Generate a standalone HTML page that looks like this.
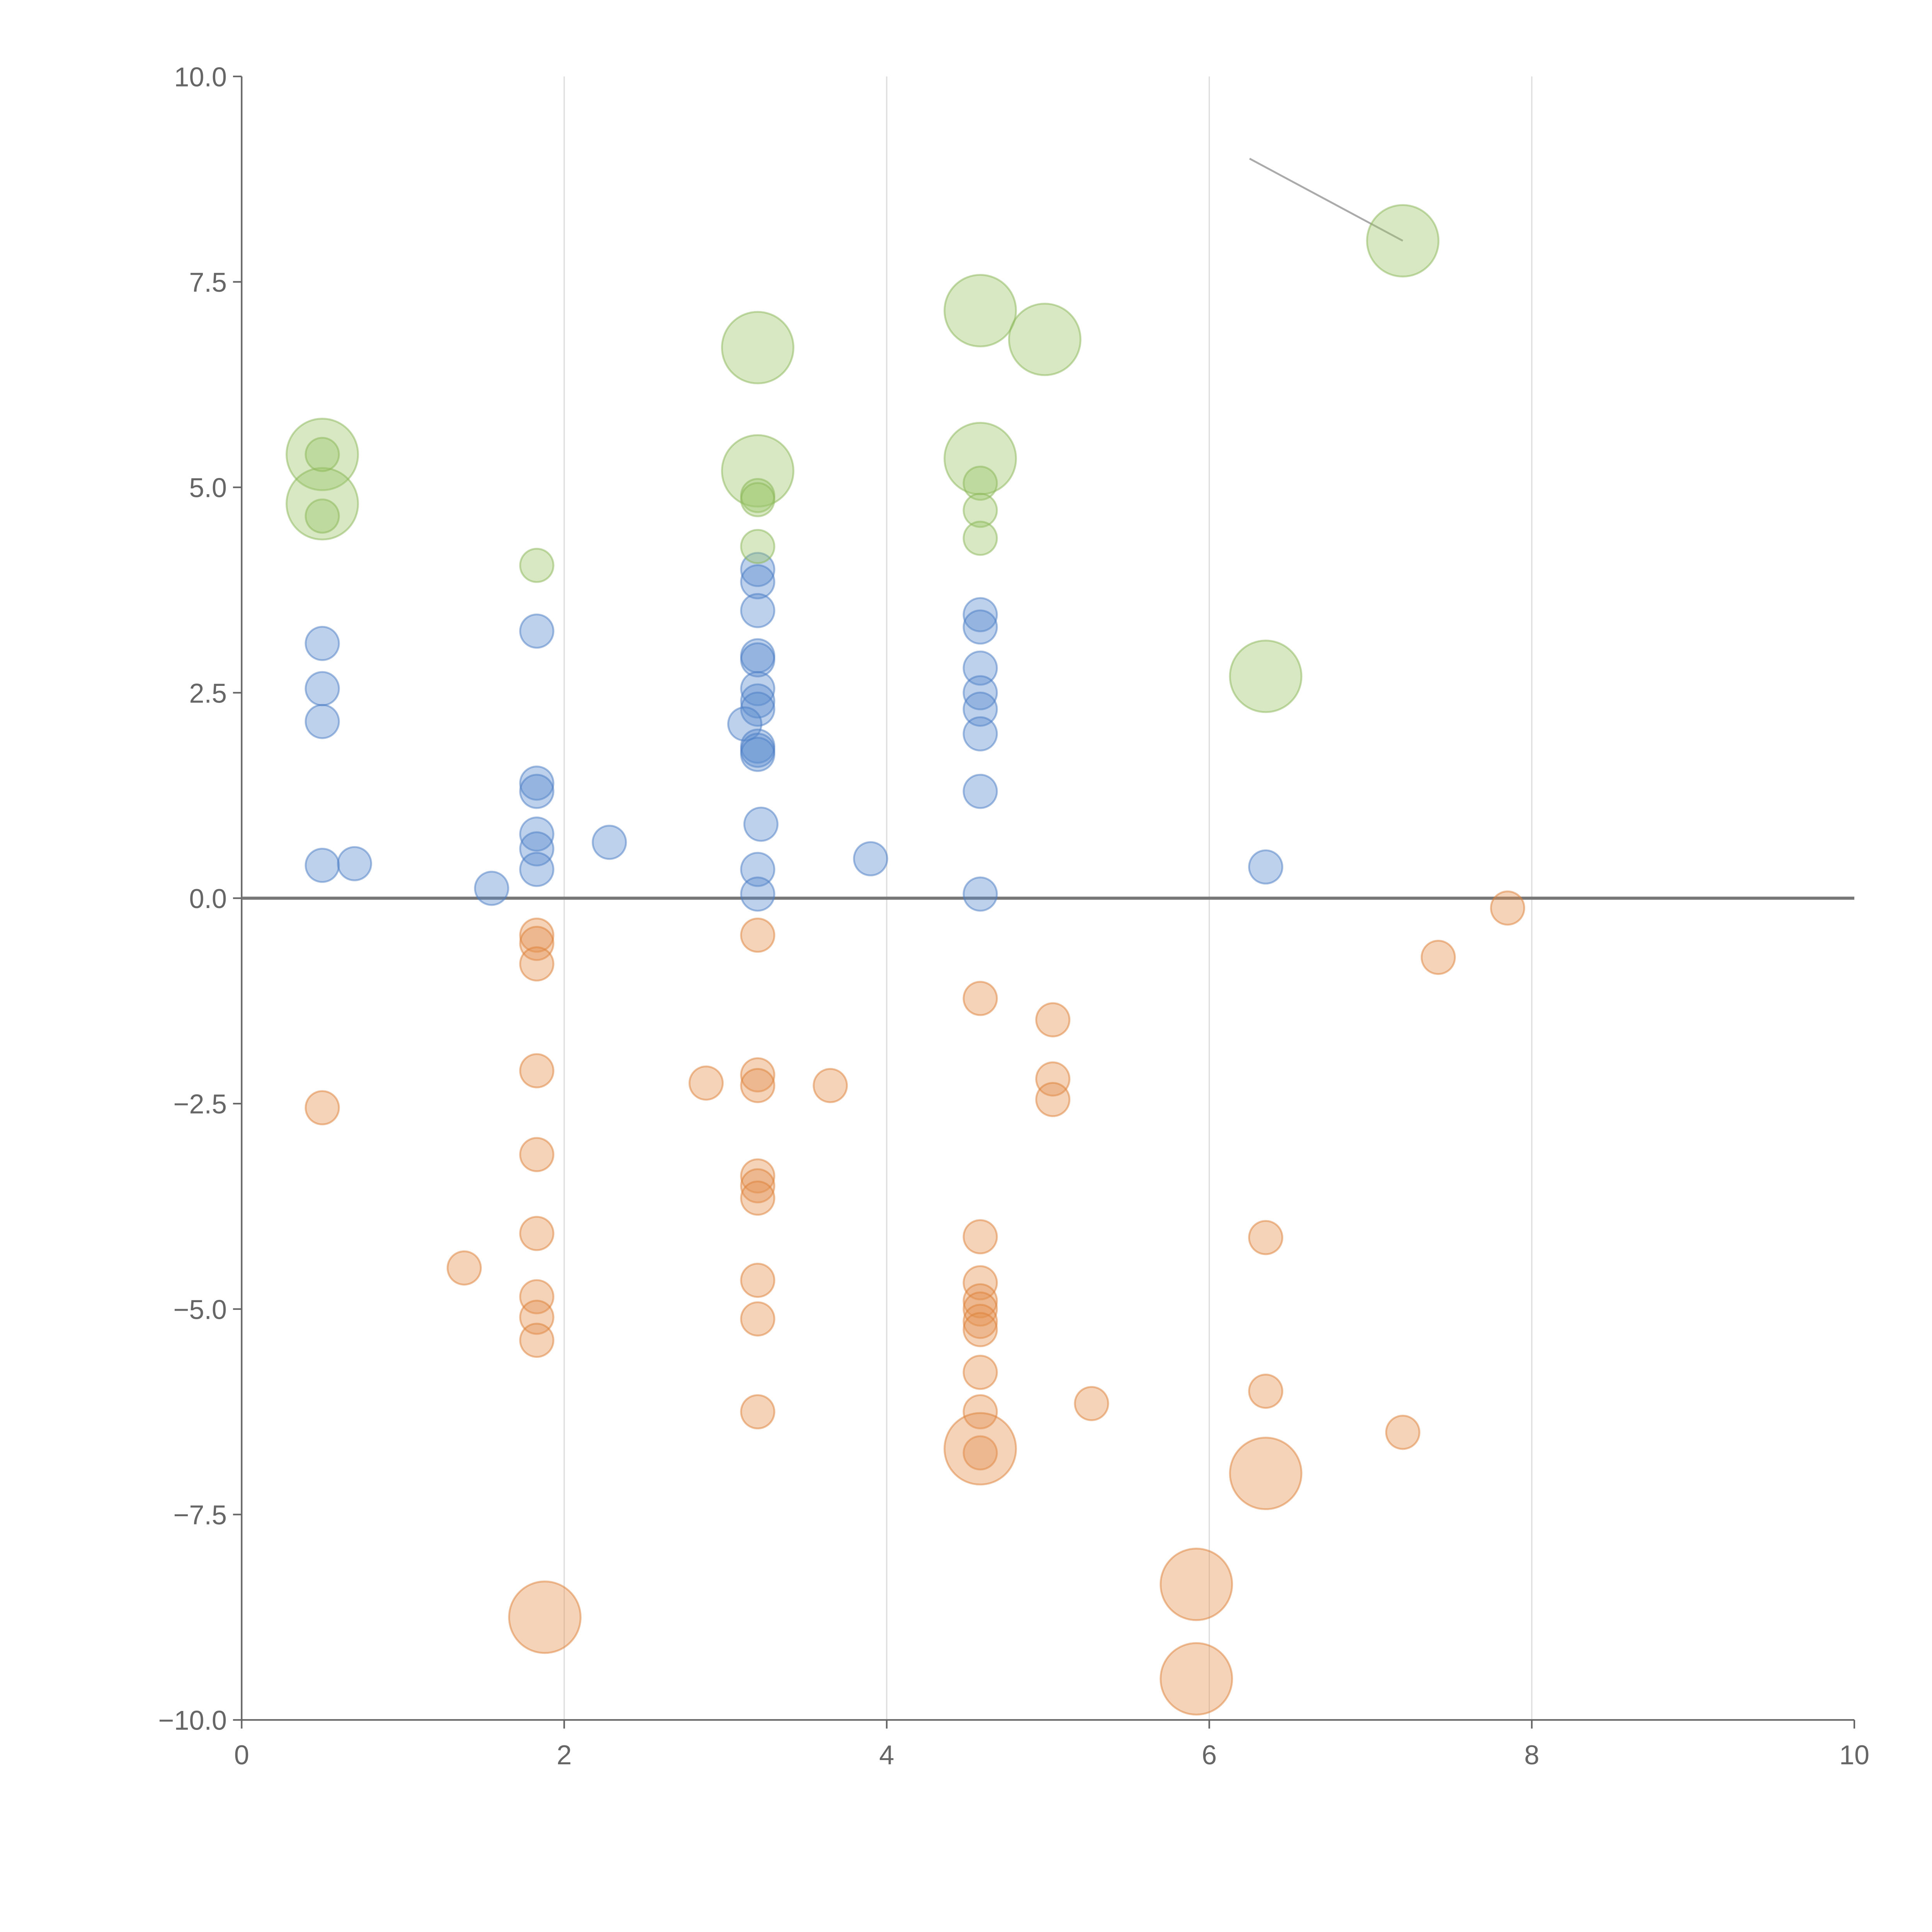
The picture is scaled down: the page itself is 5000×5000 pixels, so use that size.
<!DOCTYPE html>
<html><head><meta charset="utf-8"><style>
html,body{margin:0;padding:0;background:#fff;}
svg{display:block;}
text{font-family:"Liberation Sans",sans-serif;fill:#666;}
</style></head><body>
<svg id="chart" width="5000" height="5000" viewBox="0 0 1567 1567" xmlns="http://www.w3.org/2000/svg">
<g id="grid"></g>
<g id="axes"></g>
<g id="marks"></g>
</svg>
<script>
const xTicks=[0,2,4,6,8,10];
const yTicks=[10,7.5,5,2.5,0,-2.5,-5,-7.5,-10];
const blueX=[0.5,0.5,0.5,0.5,0.7,1.55,1.83,1.83,1.83,1.83,1.83,1.83,2.28,3.2,3.2,3.2,3.2,3.2,3.2,3.2,3.2,3.12,3.2,3.2,3.2,3.22,3.2,3.2,3.9,4.58,4.58,4.58,4.58,4.58,4.58,4.58,4.58,6.35];
const blueY=[3.1,2.55,2.15,0.4,0.42,0.12,3.25,1.4,1.3,0.78,0.6,0.35,0.68,4.0,3.85,3.5,2.95,2.9,2.55,2.4,2.3,2.12,1.85,1.8,1.75,0.9,0.35,0.05,0.48,3.45,3.3,2.8,2.5,2.3,2.0,1.3,0.05,0.38];
const greenBigX=[0.5,0.5,3.2,3.2,4.58,4.98,4.58,6.35,7.2];
const greenBigY=[5.4,4.8,6.7,5.2,7.15,6.8,5.35,2.7,8.0];
const greenX=[0.5,0.5,1.83,3.2,3.2,3.2,4.58,4.58,4.58];
const greenY=[5.4,4.65,4.05,4.9,4.85,4.28,5.05,4.72,4.38];
const orangeX=[0.5,1.83,1.83,1.83,1.83,1.83,1.83,1.83,1.83,1.83,1.38,2.88,3.2,3.2,3.2,3.2,3.2,3.2,3.2,3.2,3.2,3.65,4.58,4.58,4.58,4.58,4.58,4.58,4.58,4.58,4.58,4.58,5.03,5.03,5.03,5.27,6.35,6.35,7.2,7.42,7.85];
const orangeY=[-2.55,-0.45,-0.55,-0.8,-2.1,-3.12,-4.08,-4.85,-5.1,-5.38,-4.5,-2.25,-0.45,-2.15,-2.28,-3.38,-3.5,-3.65,-4.65,-5.12,-6.25,-2.28,-1.22,-4.12,-4.68,-4.9,-5.0,-5.15,-5.25,-5.77,-6.25,-6.75,-1.48,-2.2,-2.45,-6.15,-4.13,-6.0,-6.5,-0.72,-0.12];
const orangeBigX=[1.88,4.58,6.35,5.92,5.92];
const orangeBigY=[-8.75,-6.7,-7.0,-8.35,-9.5];

const NS="http://www.w3.org/2000/svg";
const X0=196,X1=1504,Y0=1395,Y1=62;
const sx=v=>X0+(v-0)/(10-0)*(X1-X0);
const sy=v=>Y0-(v+10)/20*(Y0-Y1);
function mk(tag,attrs,parent){const e=document.createElementNS(NS,tag);for(const k in attrs)e.setAttribute(k,attrs[k]);parent.appendChild(e);return e;}
const grid=document.getElementById('grid'),axes=document.getElementById('axes'),marks=document.getElementById('marks');
xTicks.forEach(t=>{
  if(t>0&&t<10){const g=mk('line',{x1:sx(t),x2:sx(t),y1:Y1,y2:Y0,stroke:'#ddd','stroke-width':1},grid);
  
  }
  const tk=mk('line',{x1:sx(t),x2:sx(t),y1:Y0,y2:Y0+7,stroke:'#666','stroke-width':1.3},axes);
  
  
  const tx=mk('text',{x:sx(t),y:Y0+36,'text-anchor':'middle','font-size':22},axes);tx.textContent=t;
  
  
});
yTicks.forEach(t=>{
  const tk=mk('line',{x1:X0-7,x2:X0,y1:sy(t),y2:sy(t),stroke:'#666','stroke-width':1.3},axes);
  
  
  const tx=mk('text',{x:X0-12,y:sy(t)+8,'text-anchor':'end','font-size':22},axes);tx.textContent=t.toFixed(1).replace('-','\u2212');
  
  
});
const xa=mk('line',{x1:X0,x2:X1,y1:Y0,y2:Y0,stroke:'#666','stroke-width':1.3},axes);


const ya=mk('line',{x1:X0,x2:X0,y1:Y1,y2:Y0,stroke:'#666','stroke-width':1.3},axes);


const zl=mk('line',{x1:X0,x2:X1,y1:sy(0),y2:sy(0),stroke:'#777','stroke-width':2.5},axes);


const ld=mk('line',{x1:sx(6.25),y1:sy(9.0),x2:sx(7.2),y2:sy(8.0),stroke:'#aaa','stroke-width':1.5},marks);


function series(xs,ys,r,fill,stroke,name){
  xs.forEach((x,i)=>{
    const c=mk('circle',{cx:sx(x),cy:sy(ys[i]),r:r,fill:fill,'fill-opacity':0.4,stroke:stroke,'stroke-opacity':0.5,'stroke-width':1.5},marks);
    
    
  });
}
series(blueX,blueY,13.5,'#5b8bd0','#4a7cc4','blue-point');
series(greenBigX,greenBigY,29,'#9cc56a','#8ab656','green-bubble-large');
series(greenX,greenY,13.5,'#9cc56a','#8ab656','green-point');
series(orangeX,orangeY,13.5,'#e39150','#dd8035','orange-point');
series(orangeBigX,orangeBigY,29,'#e39150','#dd8035','orange-bubble-large');
</script>
</body></html>
